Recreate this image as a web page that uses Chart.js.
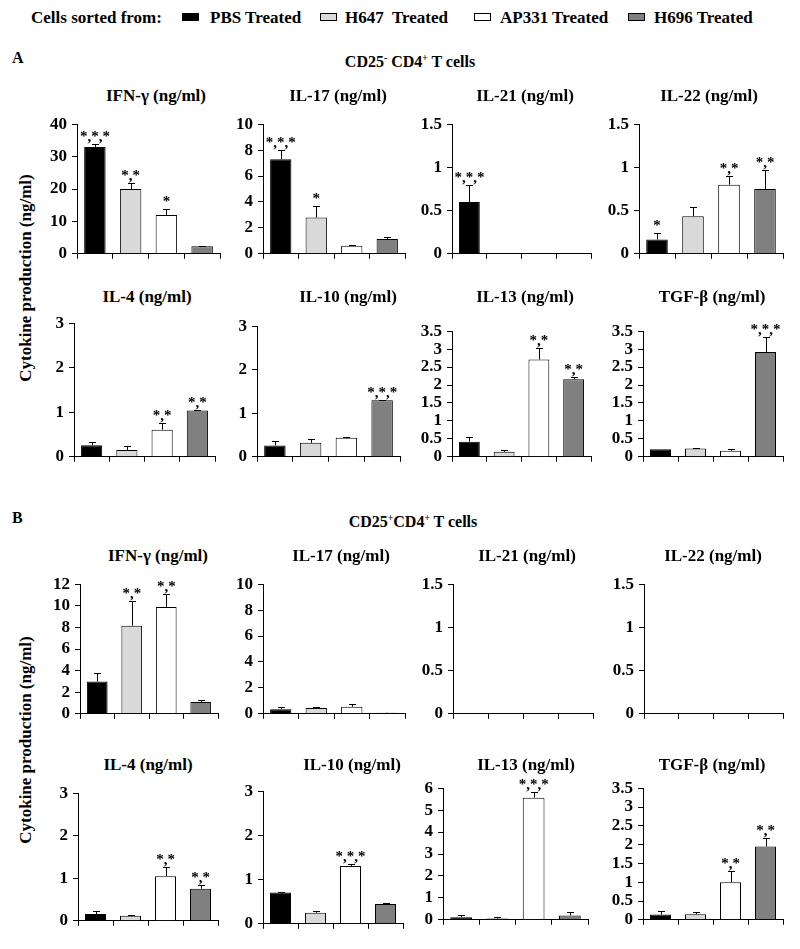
<!DOCTYPE html>
<html><head><meta charset="utf-8">
<script src="https://cdn.jsdelivr.net/npm/chart.js@4.4.1/dist/chart.umd.min.js"></script>
<style>
body{margin:0;background:#fff;width:800px;height:949px;position:relative;overflow:hidden;font-family:"Liberation Serif","Times New Roman",serif;font-weight:bold;color:#000}
.t{position:absolute;transform:translate(-50%,-50%);white-space:nowrap;line-height:1}
.l{position:absolute;white-space:nowrap;line-height:1;transform:translateY(-50%)}
.sw{position:absolute;width:15px;height:6px;border:1px solid #000;transform:translateY(-50%)}
canvas{position:absolute}
sup{font-size:60%;line-height:0;vertical-align:super}
</style></head><body>
<script>
// ---------- DATA ----------
const groups = ['PBS Treated', 'H647  Treated', 'AP331 Treated', 'H696 Treated'];
const cytokines = ['IFN-γ (ng/ml)', 'IL-17 (ng/ml)', 'IL-21 (ng/ml)', 'IL-22 (ng/ml)',
                   'IL-4 (ng/ml)', 'IL-10 (ng/ml)', 'IL-13 (ng/ml)', 'TGF-β (ng/ml)'];
const yTitle = 'Cytokine production (ng/ml)';
// y-axis ranges (tick maxima and steps) per cytokine
const negAxisMax  = [40, 10, 1.5, 1.5, 3, 3, 3.5, 3.5];
const negAxisStep = [10, 2, 0.5, 0.5, 1, 1, 0.5, 0.5];
const posAxisMax  = [12, 10, 1.5, 1.5, 3, 3, 6, 3.5];
const posAxisStep = [2, 2, 0.5, 0.5, 1, 1, 1, 0.5];
// CD25- CD4+ T cells: means, SEM, significance marks
const negMeans = [
  [33.0, 20.0, 12.0, 2.3],
  [7.3, 2.8, 0.63, 1.15],
  [0.6, 0, 0, 0],
  [0.165, 0.435, 0.80, 0.75],
  [0.26, 0.155, 0.61, 1.04],
  [0.26, 0.32, 0.44, 1.30],
  [0.42, 0.14, 2.71, 2.16],
  [0.21, 0.23, 0.17, 2.92]
];
const negErrs = [
  [1.0, 1.9, 1.9, 0.2],
  [0.7, 0.85, 0.07, 0.15],
  [0.2, 0, 0, 0],
  [0.08, 0.105, 0.10, 0.215],
  [0.065, 0.08, 0.14, 0.02],
  [0.11, 0.09, 0.01, 0.01],
  [0.14, 0.04, 0.33, 0.07],
  [0, 0.02, 0.06, 0.43]
];
const negSig = [
  ['*,*,*', '*,*', '*', ''],
  ['*,*,*', '*', '', ''],
  ['*,*,*', '', '', ''],
  ['*', '', '*,*', '*,*'],
  ['', '', '*,*', '*,*'],
  ['', '', '', '*,*,*'],
  ['', '', '*,*', '*,*'],
  ['', '', '', '*,*,*']
];
// CD25+ CD4+ T cells
const posMeans = [
  [3.0, 8.15, 9.9, 1.1],
  [0.35, 0.45, 0.55, 0.08],
  [0, 0, 0, 0],
  [0, 0, 0, 0],
  [0.16, 0.12, 1.05, 0.755],
  [0.71, 0.25, 1.31, 0.45],
  [0.12, 0.06, 5.57, 0.2],
  [0.14, 0.15, 1.0, 1.95]
];
const posErrs = [
  [0.75, 2.25, 1.2, 0.18],
  [0.2, 0.06, 0.22, 0.02],
  [0, 0, 0, 0],
  [0, 0, 0, 0],
  [0.07, 0.01, 0.21, 0.075],
  [0.01, 0.03, 0.05, 0.01],
  [0.11, 0.05, 0.25, 0.16],
  [0.09, 0.07, 0.29, 0.22]
];
const posSig = [
  ['', '*,*', '*,*', ''],
  ['', '', '', ''],
  ['', '', '', ''],
  ['', '', '', ''],
  ['', '', '*,*', '*,*'],
  ['', '', '*,*,*', ''],
  ['', '', '*,*,*', ''],
  ['', '', '*,*', '*,*']
];

// ---------- STYLE / LAYOUT ----------
const groupColors = ['#000000', '#d9d9d9', '#ffffff', '#808080'];
// [axisLeftX, axisRightX, topTickY, zeroY]
const negGeom = [
  [77, 220, 119, 263], [263, 405, 119, 263], [452, 591, 119, 263], [639, 783, 119, 263],
  [74, 215, 318, 466], [257, 400, 321, 466], [452, 591, 326, 466], [643, 783, 326, 466]
];
const posGeom = [
  [80, 218, 579, 723], [263, 405, 579, 723], [453, 593, 579, 723], [644, 783, 579, 723],
  [78, 218, 788, 930], [263, 403, 786, 933], [443, 588, 783, 929], [643, 783, 783, 929]
];
// panel title centres [x, y]
const negTitlePos = [[156, 95], [338, 95], [525, 95], [709, 95], [147, 296], [348, 296], [525, 296], [712, 296]];
const posTitlePos = [[158, 555], [341, 555], [527, 555], [713, 555], [148, 764], [352, 764], [526, 764], [712, 764]];

const FONT = '"Liberation Serif", "Times New Roman", serif';

function addText(cls, html, x, y, size, extra) {
  const d = document.createElement('div');
  d.className = cls;
  d.innerHTML = html;
  d.style.left = x + 'px';
  d.style.top = y + 'px';
  d.style.fontSize = size + 'px';
  if (extra) Object.assign(d.style, extra);
  document.body.appendChild(d);
  return d;
}

// legend
addText('l', 'Cells sorted from:', 31, 17, 17);
const swX = [182, 320, 474, 628];
const lbX = [210, 345, 500, 654];
groups.forEach((g, i) => {
  const s = document.createElement('div');
  s.className = 'sw';
  s.style.left = swX[i] + 'px';
  s.style.top = '17px';
  s.style.background = groupColors[i];
  document.body.appendChild(s);
  addText('l', g.replace('  ', '&nbsp; '), lbX[i], 17, 17);
});

// section headers
addText('l', 'A', 12, 58, 16);
addText('l', 'B', 12, 518, 16);
addText('t', 'CD25<sup>-</sup> CD4<sup>+</sup> T cells', 410, 62, 16);
addText('t', 'CD25<sup>+</sup>CD4<sup>+</sup> T cells', 413, 522, 16);
addText('t', yTitle, 25, 278, 17, {transform: 'translate(-50%,-50%) rotate(-90deg)'});
addText('t', yTitle, 25, 740, 17, {transform: 'translate(-50%,-50%) rotate(-90deg)'});

const errorPlugin = {
  id: 'errorStars',
  afterDatasetsDraw(chart) {
    const ctx = chart.ctx, ys = chart.scales.y;
    const ds = chart.data.datasets[0];
    const meta = chart.getDatasetMeta(0);
    meta.data.forEach((bar, i) => {
      const v = ds.data[i], e = ds.errors[i], s = ds.stars[i];
      const yTop = ys.getPixelForValue(v);
      const yE = ys.getPixelForValue(v + e);
      const x = Math.round(bar.x) + 0.5;
      ctx.save();
      ctx.strokeStyle = '#000';
      ctx.lineWidth = 1;
      if (e > 0) {
        const ye = Math.round(yE) + 0.5;
        ctx.beginPath();
        ctx.moveTo(x, yTop);
        ctx.lineTo(x, ye);
        ctx.moveTo(x - 3.5, ye);
        ctx.lineTo(x + 3.5, ye);
        ctx.stroke();
      }
      if (s) {
        ctx.fillStyle = '#000';
        ctx.font = 'bold 15px ' + FONT;
        ctx.textAlign = 'center';
        ctx.textBaseline = 'alphabetic';
        ctx.fillText(s, bar.x, yE - 3);
      }
      ctx.restore();
    });
  }
};

function makePanel(geom, title, tpos, means, errs, sig, max, step) {
  const [ax, ae, ty, zy] = geom;
  const YW = 44, PT = 10, XH = 6, PR = 3;
  const w = YW + (ae - ax) + PR, h = PT + (zy - ty) + XH;
  const c = document.createElement('canvas');
  c.width = w; c.height = h;
  c.style.left = (ax - YW) + 'px';
  c.style.top = (ty - PT) + 'px';
  c.style.width = w + 'px';
  c.style.height = h + 'px';
  document.body.appendChild(c);
  addText('t', title, tpos[0], tpos[1], 17);
  new Chart(c, {
    type: 'bar',
    data: {
      labels: groups,
      datasets: [{
        data: means,
        errors: errs,
        stars: sig,
        backgroundColor: groupColors,
        borderColor: '#000',
        borderWidth: means.map(v => v > 0 ? 1 : 0),
        borderSkipped: 'bottom',
        barPercentage: 0.6,
        categoryPercentage: 1
      }]
    },
    options: {
      responsive: false,
      animation: false,
      devicePixelRatio: 1,
      layout: {padding: {top: PT, right: PR, left: 0, bottom: 0}},
      plugins: {legend: {display: false}, tooltip: {enabled: false}},
      scales: {
        x: {
          ticks: {display: false},
          grid: {display: true, drawOnChartArea: false, drawTicks: true, tickLength: 5, offset: true, color: '#000', lineWidth: 1},
          border: {display: true, color: '#000', width: 1},
          afterFit(s) { s.height = XH; }
        },
        y: {
          min: 0, max: max,
          ticks: {
            stepSize: step, color: '#000', padding: 5, autoSkip: false,
            font: {family: FONT, size: 17, weight: 'bold'},
            callback: v => String(Math.round(v * 100) / 100)
          },
          grid: {display: true, drawOnChartArea: false, drawTicks: true, tickLength: 5, color: '#000', lineWidth: 1},
          border: {display: true, color: '#000', width: 1},
          afterFit(s) { s.width = YW; }
        }
      }
    },
    plugins: [errorPlugin]
  });
}

for (let i = 0; i < 8; i++) {
  makePanel(negGeom[i], cytokines[i], negTitlePos[i], negMeans[i], negErrs[i], negSig[i], negAxisMax[i], negAxisStep[i]);
  makePanel(posGeom[i], cytokines[i], posTitlePos[i], posMeans[i], posErrs[i], posSig[i], posAxisMax[i], posAxisStep[i]);
}
</script>
</body></html>
